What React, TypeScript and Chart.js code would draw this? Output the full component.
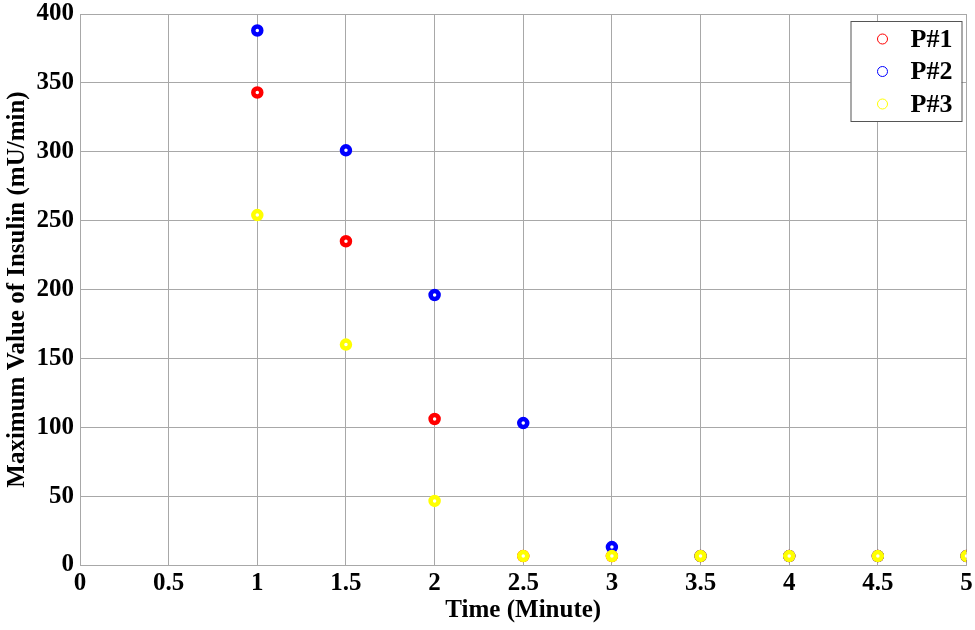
import React, { useEffect, useRef } from "react";
import { Chart, registerables } from "chart.js";

Chart.register(...registerables);

// time points (minutes)
const times = [1, 1.5, 2, 2.5, 3, 3.5, 4, 4.5, 5];

// maximum insulin values per patient (mU/min)
const p1Values = [343, 235, 106, 6.5, 6.5, 6.5, 6.5, 6.5, 6.5];
const p2Values = [388, 301, 196, 103, 13, 6.5, 6.5, 6.5, 6.5];
const p3Values = [254, 160, 46.5, 6.5, 6.5, 6.5, 6.5, 6.5, 6.5];

const seriesNames = ["P#1", "P#2", "P#3"];
const seriesColors = ["#ff0000", "#0000ff", "#ffff00"];

const FONT = "'Liberation Serif', 'Times New Roman', serif";

const legendBox = {
  id: "legendBox",
  afterDraw(chart: any) {
    const { ctx, chartArea } = chart;
    const x = chartArea.right - 116;
    const y = chartArea.top + 7;
    const w = 111;
    const h = 100;
    ctx.save();
    ctx.fillStyle = "#ffffff";
    ctx.fillRect(x, y, w, h);
    ctx.strokeStyle = "#555555";
    ctx.lineWidth = 1;
    ctx.strokeRect(x + 0.5, y + 0.5, w, h);
    chart.data.datasets.forEach((ds: any, i: number) => {
      const cy = y + 18 + i * 32.5;
      ctx.beginPath();
      ctx.arc(x + 32, cy, 5, 0, Math.PI * 2);
      ctx.strokeStyle = ds.borderColor;
      ctx.lineWidth = 1;
      ctx.stroke();
      ctx.fillStyle = "#000000";
      ctx.font = `bold 26px ${FONT}`;
      ctx.textAlign = "left";
      ctx.textBaseline = "middle";
      ctx.fillText(ds.label, x + 60, cy + 1);
    });
    ctx.restore();
  },
};

const App: React.FC = () => {
  const chartRef = useRef<HTMLCanvasElement | null>(null);
  const chartInstance = useRef<Chart | null>(null);

  useEffect(() => {
    if (!chartRef.current) return;
    if (chartInstance.current) {
      chartInstance.current.destroy();
    }
    const ctx = chartRef.current.getContext("2d");
    if (!ctx) return;

    const series = [p1Values, p2Values, p3Values];

    chartInstance.current = new Chart(ctx, {
      type: "scatter",
      data: {
        datasets: series.map((vals, i) => ({
          label: seriesNames[i],
          data: times.map((t, j) => ({ x: t, y: vals[j] })),
          borderColor: seriesColors[i],
          backgroundColor: "#ffffff",
          pointRadius: 4,
          pointBorderWidth: 4.5,
          pointHoverRadius: 4,
          // later series are drawn on top
          order: series.length - i,
        })),
      },
      options: {
        responsive: false,
        animation: false,
        layout: {
          padding: { top: 14, right: 6, left: 0, bottom: 0 },
        },
        plugins: {
          legend: { display: false },
          tooltip: { enabled: false },
        },
        scales: {
          x: {
            type: "linear",
            min: 0,
            max: 5,
            afterFit: (scale: any) => {
              scale.height = 65;
              scale.paddingLeft = 0;
              scale.paddingRight = 0;
            },
            ticks: {
              stepSize: 0.5,
              color: "#000000",
              padding: 4,
              maxRotation: 0,
              callback: (v: any) => String(v),
              font: { family: FONT, size: 25, weight: "bold" },
            },
            grid: {
              color: "#a8a8a8",
              lineWidth: 1,
              drawTicks: false,
            },
            border: { color: "#a8a8a8" },
            title: {
              display: true,
              text: "Time (Minute)",
              color: "#000000",
              padding: { top: 4, bottom: 4 },
              font: { family: FONT, size: 25, weight: "bold" },
            },
          },
          y: {
            min: 0,
            max: 400,
            afterFit: (scale: any) => {
              scale.width = 80;
              scale.paddingTop = 0;
              scale.paddingBottom = 0;
            },
            ticks: {
              stepSize: 50,
              color: "#000000",
              padding: 6,
              font: { family: FONT, size: 25, weight: "bold" },
            },
            grid: {
              color: "#a8a8a8",
              lineWidth: 1,
              drawTicks: false,
            },
            border: { color: "#a8a8a8" },
            title: {
              display: true,
              text: "Maximum Value of Insulin (mU/min)",
              color: "#000000",
              padding: { top: 3, bottom: 3 },
              font: { family: FONT, size: 25, weight: "bold" },
            },
          },
        },
      },
      plugins: [legendBox],
    });

    return () => {
      if (chartInstance.current) {
        chartInstance.current.destroy();
        chartInstance.current = null;
      }
    };
  }, []);

  return (
    <div
      style={{
        position: "absolute",
        left: 0,
        top: 0,
        width: 975,
        height: 630,
        background: "#ffffff",
      }}
    >
      <canvas ref={chartRef} width={975} height={630} />
    </div>
  );
};

export default App;
